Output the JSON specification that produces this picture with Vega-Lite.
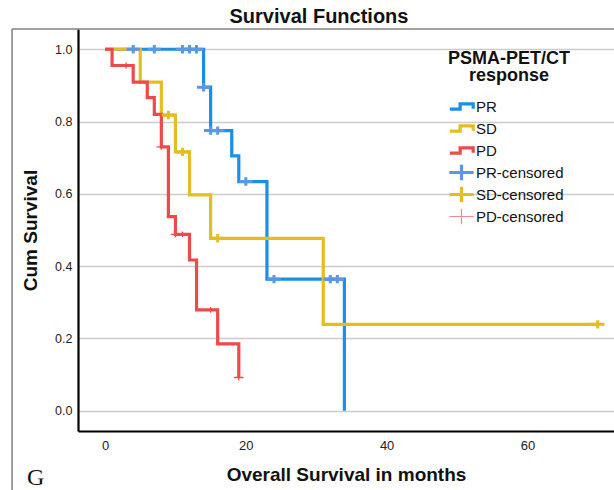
{
  "$schema": "https://vega.github.io/schema/vega-lite/v6.json",
  "autosize": "none",
  "width": 536,
  "height": 402,
  "padding": {"left": 78, "top": 29, "right": 0, "bottom": 59},
  "background": "white",
  "config": {
    "view": {"stroke": null},
    "font": "Liberation Sans",
    "axis": {"labelFont": "Liberation Sans", "titleFont": "Liberation Sans"},
    "legend": {"labelFont": "Liberation Sans", "titleFont": "Liberation Sans"}
  },
  "title": {
    "text": "Survival Functions",
    "anchor": "middle",
    "dx": -27,
    "offset": 1,
    "fontSize": 20,
    "fontWeight": "bold",
    "font": "Liberation Sans",
    "color": "#111111"
  },
  "datasets": {
    "lines": [
      {"series": "PR", "time": 0, "surv": 1.0},
      {"series": "PR", "time": 14, "surv": 0.895},
      {"series": "PR", "time": 15, "surv": 0.775},
      {"series": "PR", "time": 18, "surv": 0.705},
      {"series": "PR", "time": 19, "surv": 0.634},
      {"series": "PR", "time": 23, "surv": 0.364},
      {"series": "PR", "time": 34, "surv": 0.0},
      {"series": "SD", "time": 0, "surv": 1.0},
      {"series": "SD", "time": 5, "surv": 0.909},
      {"series": "SD", "time": 8, "surv": 0.818},
      {"series": "SD", "time": 10, "surv": 0.716},
      {"series": "SD", "time": 12, "surv": 0.597},
      {"series": "SD", "time": 15, "surv": 0.477},
      {"series": "SD", "time": 31, "surv": 0.239},
      {"series": "SD", "time": 70, "surv": 0.239},
      {"series": "PD", "time": 0, "surv": 1.0},
      {"series": "PD", "time": 1, "surv": 0.955},
      {"series": "PD", "time": 4, "surv": 0.909},
      {"series": "PD", "time": 6, "surv": 0.866},
      {"series": "PD", "time": 7, "surv": 0.82},
      {"series": "PD", "time": 8, "surv": 0.73},
      {"series": "PD", "time": 9, "surv": 0.537},
      {"series": "PD", "time": 10, "surv": 0.488},
      {"series": "PD", "time": 12, "surv": 0.417},
      {"series": "PD", "time": 13, "surv": 0.279},
      {"series": "PD", "time": 16, "surv": 0.185},
      {"series": "PD", "time": 19, "surv": 0.092}
    ],
    "censor": [
      {"series": "PR-censored", "time": 4, "surv": 1.0},
      {"series": "PR-censored", "time": 7, "surv": 1.0},
      {"series": "PR-censored", "time": 11, "surv": 1.0},
      {"series": "PR-censored", "time": 12, "surv": 1.0},
      {"series": "PR-censored", "time": 13, "surv": 1.0},
      {"series": "PR-censored", "time": 14, "surv": 0.895},
      {"series": "PR-censored", "time": 15, "surv": 0.775},
      {"series": "PR-censored", "time": 16, "surv": 0.775},
      {"series": "PR-censored", "time": 20, "surv": 0.634},
      {"series": "PR-censored", "time": 24, "surv": 0.364},
      {"series": "PR-censored", "time": 32, "surv": 0.364},
      {"series": "PR-censored", "time": 33, "surv": 0.364},
      {"series": "SD-censored", "time": 9, "surv": 0.818},
      {"series": "SD-censored", "time": 11, "surv": 0.716},
      {"series": "SD-censored", "time": 16, "surv": 0.477},
      {"series": "SD-censored", "time": 70, "surv": 0.239},
      {"series": "PD-censored", "time": 3, "surv": 0.955},
      {"series": "PD-censored", "time": 8, "surv": 0.73},
      {"series": "PD-censored", "time": 10, "surv": 0.488},
      {"series": "PD-censored", "time": 11, "surv": 0.488},
      {"series": "PD-censored", "time": 15, "surv": 0.279},
      {"series": "PD-censored", "time": 19, "surv": 0.092}
    ]
  },
  "layer": [
    {
      "data": {"values": [{}]},
      "mark": {"type": "rule", "color": "#808080", "strokeWidth": 1.5},
      "encoding": {
        "x": {"datum": -13.21, "type": "quantitative", "scale": {"domain": [-3.84, 72.3]}},
        "y": {"datum": 1.056, "type": "quantitative"},
        "y2": {"datum": -0.26}
      }
    },
    {
      "data": {"values": [{}]},
      "mark": {"type": "rule", "color": "#808080", "strokeWidth": 1.5},
      "encoding": {
        "x": {"datum": -13.21, "type": "quantitative"},
        "x2": {"datum": 80},
        "y": {"datum": 1.056, "type": "quantitative"}
      }
    },
    {
      "data": {"name": "lines"},
      "transform": [{"filter": "datum.series === 'PR'"}],
      "mark": {"type": "line", "interpolate": "step-after", "strokeWidth": 3.2},
      "encoding": {
        "x": {
          "field": "time",
          "type": "quantitative",
          "scale": {"domain": [-3.84, 72.3], "nice": false, "zero": false},
          "axis": {
            "values": [0, 20, 40, 60],
            "grid": false,
            "ticks": false,
            "tickSize": 0,
            "domainColor": "#000000",
            "domainWidth": 2.2,
            "labelFontSize": 13,
            "labelColor": "#222222",
            "labelPadding": 8,
            "title": "Overall Survival in months",
            "titleFontSize": 19,
            "titleFontWeight": "bold",
            "titleColor": "#111111",
            "titlePadding": 13
          }
        },
        "y": {
          "field": "surv",
          "type": "quantitative",
          "scale": {"domain": [-0.056, 1.056], "nice": false, "zero": false},
          "axis": {
            "values": [0, 0.2, 0.4, 0.6, 0.8, 1.0],
            "format": ".1f",
            "grid": true,
            "gridColor": "#cccccc",
            "gridWidth": 1.3,
            "ticks": false,
            "tickSize": 0,
            "domainColor": "#000000",
            "domainWidth": 2.2,
            "labelFontSize": 12.5,
            "labelColor": "#222222",
            "labelPadding": 6,
            "title": "Cum Survival",
            "titleFontSize": 19,
            "titleFontWeight": "bold",
            "titleColor": "#111111",
            "titlePadding": 14
          }
        },
        "color": {
          "field": "series",
          "type": "nominal",
          "scale": {
            "domain": ["PR", "SD", "PD", "PR-censored", "SD-censored", "PD-censored"],
            "range": ["#1b8fe6", "#e3bd22", "#ee4a4a", "#5a98e6", "#e3bd22", "#f28a8a"]
          },
          "legend": {
            "orient": "none",
            "legendX": 370,
            "legendY": 21,
            "padding": 0,
            "title": ["PSMA-PET/CT", "response"],
            "titleFontSize": 18,
            "titleFontWeight": "bold",
            "titleColor": "#111111",
            "titleAnchor": "middle",
            "titleAlign": "center",
            "titleLineHeight": 17,
            "titlePadding": 14,
            "labelFontSize": 15,
            "labelColor": "#111111",
            "labelOffset": 7,
            "symbolSize": 100,
            "symbolStrokeWidth": 3,
            "symbolOpacity": 1,
            "rowPadding": -12,
            "gridAlign": "all",
            "encode": {
              "symbols": {
                "update": {
                  "strokeWidth": {"signal": "datum.value === 'PD-censored' ? 1.2 : 3.2"},
                  "fill": {"value": "transparent"}
                }
              }
            }
          }
        }
      }
    },
    {
      "data": {"name": "lines"},
      "transform": [{"filter": "datum.series === 'SD'"}],
      "mark": {"type": "line", "interpolate": "step-after", "strokeWidth": 3.2},
      "encoding": {
        "x": {"field": "time", "type": "quantitative"},
        "y": {"field": "surv", "type": "quantitative"},
        "color": {"field": "series", "type": "nominal"}
      }
    },
    {
      "data": {"name": "lines"},
      "transform": [{"filter": "datum.series === 'PD'"}],
      "mark": {"type": "line", "interpolate": "step-after", "strokeWidth": 3.2},
      "encoding": {
        "x": {"field": "time", "type": "quantitative"},
        "y": {"field": "surv", "type": "quantitative"},
        "color": {"field": "series", "type": "nominal"}
      }
    },
    {
      "data": {"name": "censor"},
      "transform": [{"filter": "datum.series !== 'PD-censored'"}],
      "mark": {"type": "point", "filled": false, "opacity": 1, "strokeWidth": 3, "size": 30},
      "encoding": {
        "x": {"field": "time", "type": "quantitative"},
        "y": {"field": "surv", "type": "quantitative"},
        "color": {"field": "series", "type": "nominal"},
        "shape": {
          "field": "series",
          "type": "nominal",
          "scale": {
            "domain": ["PR", "SD", "PD", "PR-censored", "SD-censored", "PD-censored"],
            "range": [
              "M-2.34,0.54H-0.27V-0.54H2.34V0.45",
              "M-2.34,0.54H-0.27V-0.54H2.34V0.45",
              "M-2.34,0.54H-0.27V-0.54H2.34V0.45",
              "M-2.43,0H2.43M0,-1.53V1.53",
              "M-2.43,0H2.43M0,-1.53V1.53",
              "M-2.43,0H2.43M0,-1.53V1.53"
            ]
          },
          "legend": {
            "orient": "none",
            "legendX": 370,
            "legendY": 21,
            "padding": 0,
            "title": ["PSMA-PET/CT", "response"],
            "titleFontSize": 18,
            "titleFontWeight": "bold",
            "titleColor": "#111111",
            "titleAnchor": "middle",
            "titleAlign": "center",
            "titleLineHeight": 17,
            "titlePadding": 14,
            "labelFontSize": 15,
            "labelColor": "#111111",
            "labelOffset": 7,
            "symbolSize": 100,
            "symbolStrokeWidth": 3,
            "symbolOpacity": 1,
            "rowPadding": -12,
            "gridAlign": "all",
            "encode": {
              "symbols": {
                "update": {
                  "strokeWidth": {"signal": "datum.value === 'PD-censored' ? 1.2 : 3.2"},
                  "fill": {"value": "transparent"}
                }
              }
            }
          }
        }
      }
    },
    {
      "data": {"name": "censor"},
      "transform": [{"filter": "datum.series === 'PD-censored'"}],
      "mark": {"type": "point", "filled": false, "opacity": 1, "strokeWidth": 1.3, "size": 15, "color": "#ee4a4a"},
      "encoding": {
        "x": {"field": "time", "type": "quantitative"},
        "y": {"field": "surv", "type": "quantitative"},
        "shape": {"field": "series", "type": "nominal"}
      }
    },
    {
      "data": {"values": [{}]},
      "mark": {"type": "text", "font": "Liberation Serif", "fontSize": 24, "align": "center", "baseline": "alphabetic", "color": "#111111"},
      "encoding": {
        "x": {"datum": -9.87, "type": "quantitative"},
        "y": {"datum": -0.2056, "type": "quantitative"},
        "text": {"value": "G"}
      }
    }
  ]
}
